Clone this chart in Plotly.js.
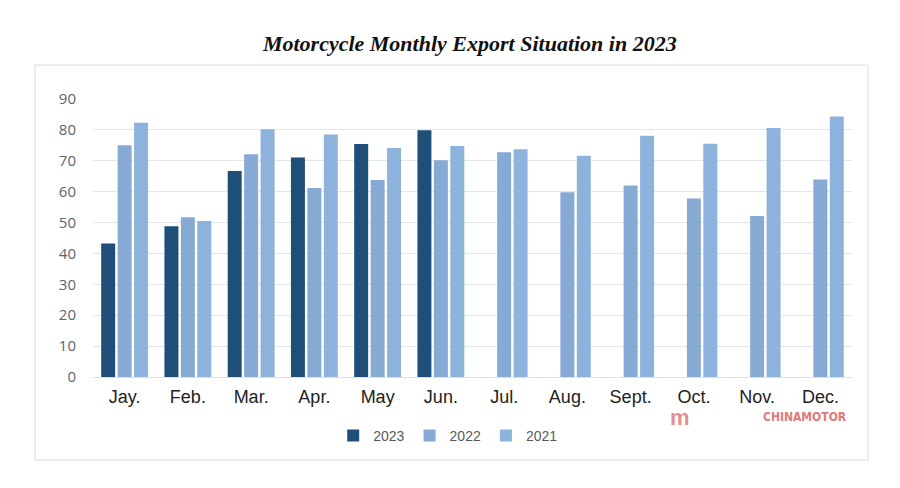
<!DOCTYPE html>
<html>
<head>
<meta charset="utf-8">
<script src="https://cdn.plot.ly/plotly-3.0.1.min.js"></script>
<style>html,body{margin:0;padding:0;background:#fff;}#chart{width:900px;height:488px;}</style>
</head>
<body>
<div id="chart"></div>
<script>
const months = ["Jay.", "Feb.", "Mar.", "Apr.", "May", "Jun.", "Jul.", "Aug.", "Sept.", "Oct.", "Nov.", "Dec."];
const exports2023 = [43.2, 48.8, 66.7, 71.1, 75.4, 79.9, null, null, null, null, null, null];
const exports2022 = [75.0, 51.7, 72.1, 61.2, 63.8, 70.2, 72.8, 59.8, 62.0, 57.8, 52.1, 63.9];
const exports2021 = [82.3, 50.5, 80.2, 78.5, 74.1, 74.8, 73.7, 71.6, 78.1, 75.5, 80.6, 84.3];
const yTicks = [0, 10, 20, 30, 40, 50, 60, 70, 80, 90];

const traces = [
  {type: 'bar', name: '2023', x: months, y: exports2023, marker: {color: '#1f4e79'}},
  {type: 'bar', name: '2022', x: months, y: exports2022, marker: {color: '#86aad4'}},
  {type: 'bar', name: '2021', x: months, y: exports2021, marker: {color: '#8db3dc'}}
];

const layout = {
  width: 900, height: 488,
  margin: {l: 93, r: 48, t: 99, b: 111},
  paper_bgcolor: '#ffffff', plot_bgcolor: '#ffffff',
  barmode: 'group', bargap: 0.22, bargroupgap: 0.15,
  title: {
    text: '<b><i>Motorcycle Monthly Export Situation in 2023</i></b>',
    font: {family: 'Liberation Serif, Times New Roman, serif', size: 22, color: '#111111'},
    x: 0.522, xref: 'container', xanchor: 'center',
    y: 0.912, yref: 'container', yanchor: 'middle'
  },
  xaxis: {
    type: 'category', showgrid: false, zeroline: false, showline: false, ticks: '',
    ticklabelstandoff: 7,
    tickfont: {family: 'Liberation Sans, Arial, sans-serif', size: 18, color: '#222222'}
  },
  yaxis: {
    range: [0, 90], tickvals: yTicks, ticktext: yTicks.map(String),
    showgrid: true, gridcolor: '#e6e6e6', gridwidth: 1,
    zeroline: true, zerolinecolor: '#e0e0e0', showline: false, ticks: '',
    ticklabelstandoff: 16,
    tickfont: {family: 'Open Sans, Liberation Sans, sans-serif', size: 15, color: '#5a6470'}
  },
  legend: {
    orientation: 'h', x: 0.468, xanchor: 'center', y: -0.212, yanchor: 'middle',
    font: {family: 'Liberation Sans Narrow, Liberation Sans, sans-serif', size: 14, color: '#595959'},
    itemwidth: 30, traceorder: 'normal'
  },
  shapes: [{
    type: 'rect', xref: 'paper', yref: 'paper',
    x0: -0.0764, x1: 1.021, y0: -0.2986, y1: 1.122,
    line: {color: '#dcdcdc', width: 1}, fillcolor: 'rgba(0,0,0,0)', layer: 'below'
  }],
  annotations: [
    {xref: 'paper', yref: 'paper', x: 0.938, y: -0.143, xanchor: 'center', yanchor: 'middle',
     text: '<b>CHINAMOTOR</b>', showarrow: false,
     font: {family: 'DejaVu Sans Condensed, Liberation Sans Narrow, sans-serif', size: 12, color: '#e07a7a'}},
    {xref: 'paper', yref: 'paper', x: 0.774, y: -0.145, xanchor: 'center', yanchor: 'middle',
     text: '<b>m</b>', showarrow: false,
     font: {family: 'Liberation Sans, sans-serif', size: 22, color: 'rgba(224,110,110,0.8)'}}
  ],
  showlegend: true
};

Plotly.newPlot('chart', traces, layout, {displayModeBar: false, staticPlot: true});
</script>
</body>
</html>
